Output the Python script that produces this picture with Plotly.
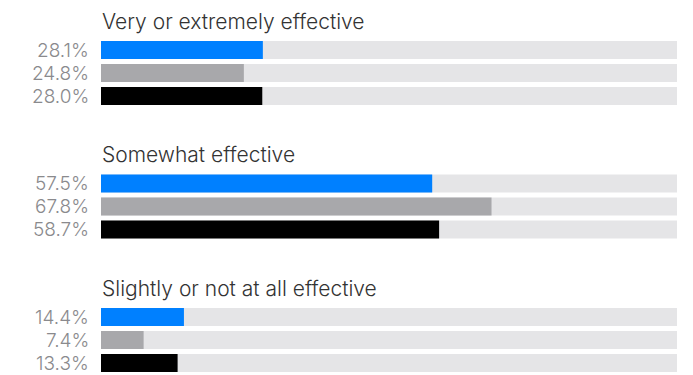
import plotly.graph_objects as go

# Survey shares by effectiveness rating, three respondent groups per rating
categories = ["Very or extremely effective", "Somewhat effective", "Slightly or not at all effective"]
series_blue = [28.1, 57.5, 14.4]
series_gray = [24.8, 67.8, 7.4]
series_black = [28.0, 58.7, 13.3]
series_colors = ["#0080ff", "#a8a8ab", "#000000"]
track_max = 100

W, H = 693, 375
x_left, x_right = 101, 677
first_top = 41
group_pitch = 133.5
row_pitch = 23
bar_h = 18

series = [series_blue, series_gray, series_black]

fig = go.Figure()
annotations = []

ys, vals, cols = [], [], []
for g, cat in enumerate(categories):
    top = first_top + g * group_pitch
    annotations.append(dict(
        x=x_left / W - 0.002, y=top - 20, xref="paper", yref="y",
        text=cat, showarrow=False, xanchor="left", yanchor="middle",
        font=dict(family="Inter", size=21, color="#333333", weight=300),
    ))
    for s, vals_s in enumerate(series):
        yc = top + bar_h / 2 + s * row_pitch
        ys.append(yc)
        vals.append(vals_s[g])
        cols.append(series_colors[s])
        annotations.append(dict(
            x=91 / W, y=yc, xref="paper", yref="y",
            text=f"{vals_s[g]:.1f}%", showarrow=False, xanchor="right", yanchor="middle",
            font=dict(family="Inter", size=19, color="#8a8a8d", weight=300),
        ))

# light track behind each bar
fig.add_trace(go.Bar(x=[track_max] * len(ys), y=ys, orientation="h", width=bar_h,
                     marker=dict(color="#e5e5e7", line=dict(width=0)), hoverinfo="skip"))
fig.add_trace(go.Bar(x=vals, y=ys, orientation="h", width=bar_h,
                     marker=dict(color=cols, line=dict(width=0))))

fig.update_layout(
    width=W, height=H, margin=dict(l=0, r=0, t=0, b=0),
    paper_bgcolor="white", plot_bgcolor="white",
    barmode="overlay", showlegend=False, annotations=annotations,
    xaxis=dict(domain=[x_left / W, x_right / W], range=[0, track_max], visible=False, fixedrange=True),
    yaxis=dict(domain=[0, 1], range=[H, 0], visible=False, fixedrange=True),
)

fig.write_html("out.html")
